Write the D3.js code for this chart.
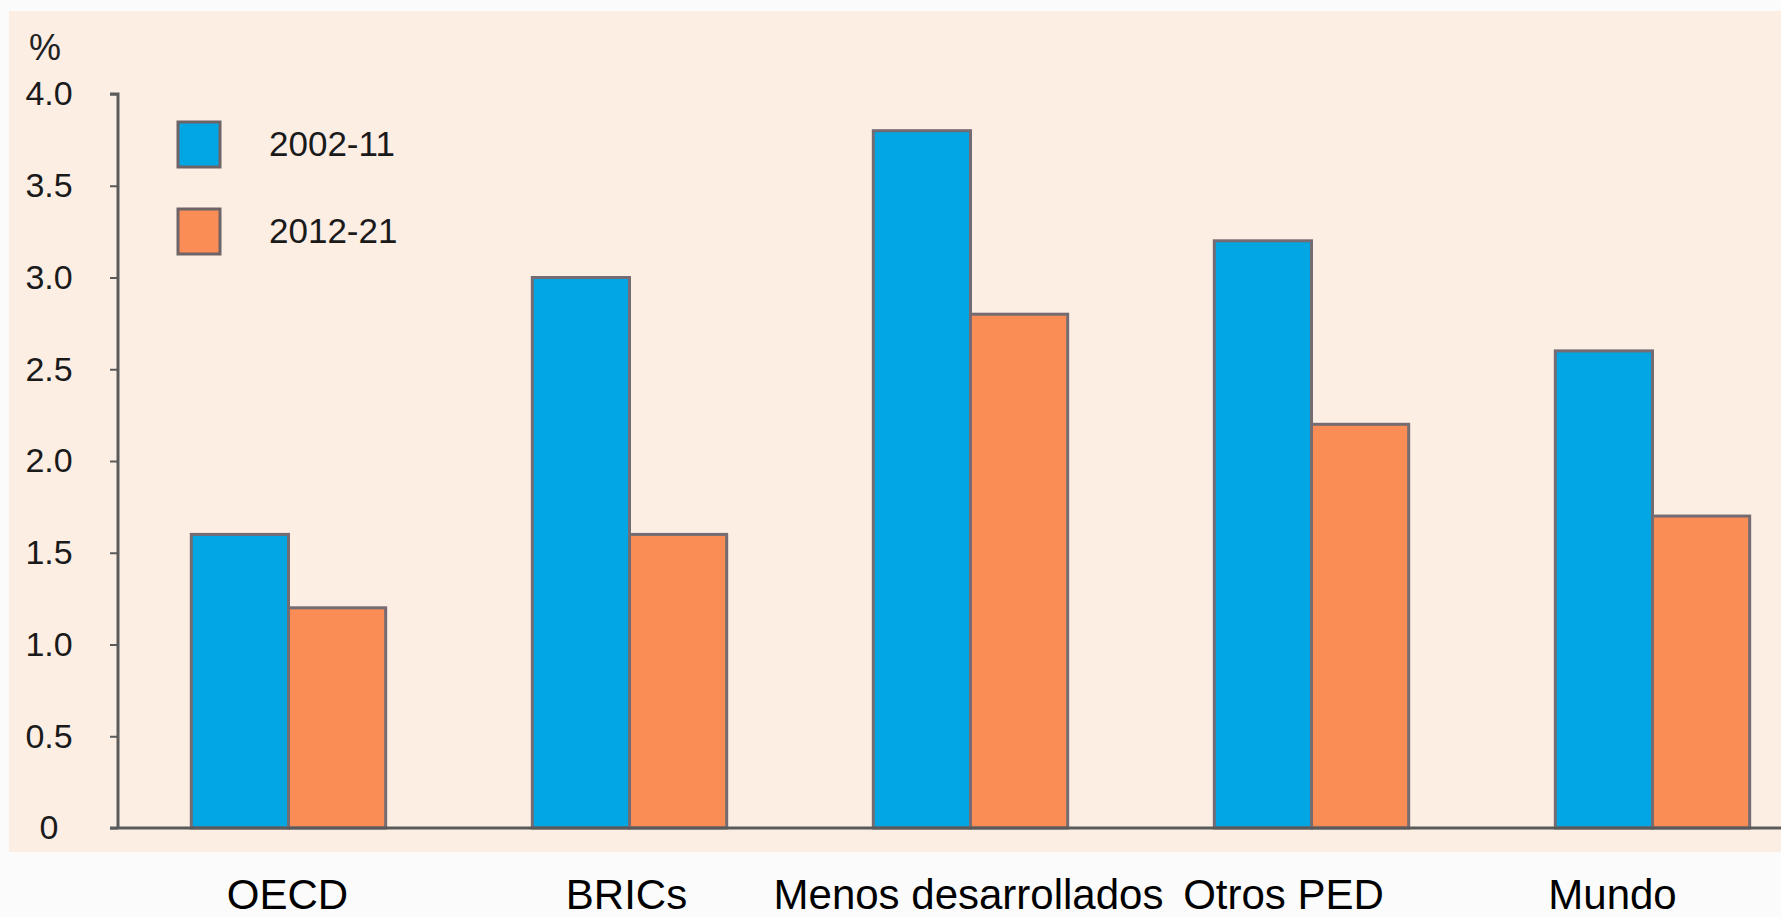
<!DOCTYPE html>
<html><head><meta charset="utf-8">
<script src="https://cdn.jsdelivr.net/npm/d3@7"></script>
<style>
html,body{margin:0;padding:0;background:#fbfbfb;}
svg{display:block;font-family:"Liberation Sans",Arial,sans-serif;}
</style></head>
<body><svg id="chart" width="1781" height="917"></svg>
<script>
const categories = ["OECD", "BRICs", "Menos desarrollados", "Otros PED", "Mundo"];
const seriesNames = ["2002-11", "2012-21"];
const values2002_11 = [1.6, 3.0, 3.8, 3.2, 2.6];
const values2012_21 = [1.2, 1.6, 2.8, 2.2, 1.7];
const yTicks = [0, 0.5, 1.0, 1.5, 2.0, 2.5, 3.0, 3.5, 4.0];
const yTickLabels = ["0", "0.5", "1.0", "1.5", "2.0", "2.5", "3.0", "3.5", "4.0"];

const colors = ["#02a6e2", "#fa8c55"];
const labelNudge = [-1, -3, -2, -28, -40];

const svg = d3.select("#chart");
const W = 1781, H = 917;

// panel background
svg.append("rect").attr("x", 9).attr("y", 11).attr("width", W - 9).attr("height", 841)
  .attr("fill", "#fdeee4");

const y = d3.scaleLinear().domain([0, 4]).range([828, 94]);
const x0 = d3.scaleBand().domain(categories).range([118, 1823]).paddingInner(0.43).paddingOuter(0.215);
const x1 = d3.scaleBand().domain(seriesNames).range([0, x0.bandwidth()]);

const series = [values2002_11, values2012_21];

// bars
categories.forEach((c, i) => {
  series.forEach((vals, s) => {
    svg.append("rect")
      .attr("x", x0(c) + x1(seriesNames[s]))
      .attr("y", y(vals[i]))
      .attr("width", x1.bandwidth())
      .attr("height", y(0) - y(vals[i]))
      .attr("fill", colors[s])
      .attr("stroke", "#746c72")
      .attr("stroke-width", 3);
  });
});

// y axis
const yAxis = d3.axisLeft(y).tickValues(yTicks).tickFormat((d, i) => yTickLabels[i]).tickSize(8).tickPadding(34);
const gy = svg.append("g").attr("transform", "translate(118,0)").call(yAxis);
gy.select(".domain").attr("stroke", "#5a5a5a").attr("stroke-width", 3).attr("d", `M-8,${y(4)}H0V${y(0)}`);
gy.selectAll(".tick line").attr("stroke", "#5a5a5a").attr("stroke-width", 2);
gy.selectAll(".tick text").attr("font-size", 34).attr("fill", "#1a1a1a")
  .attr("text-anchor", "middle").attr("x", -69);

// baseline
svg.append("line").attr("x1", 110).attr("x2", W).attr("y1", y(0)).attr("y2", y(0))
  .attr("stroke", "#5a5a5a").attr("stroke-width", 3);

// % label
svg.append("text").attr("x", 45).attr("y", 60).attr("text-anchor", "middle")
  .attr("font-size", 36).attr("fill", "#222").text("%");

// legend
seriesNames.forEach((n, s) => {
  const ly = 122 + s * 87;
  svg.append("rect").attr("x", 178).attr("y", ly).attr("width", 42).attr("height", 45)
    .attr("fill", colors[s]).attr("stroke", "#6e6468").attr("stroke-width", 3);
  svg.append("text").attr("x", 269).attr("y", ly + 34).attr("font-size", 35)
    .attr("fill", "#1a1a1a").text(n);
});

// category labels
categories.forEach((c, i) => {
  svg.append("text").attr("x", x0(c) + x0.bandwidth() / 2 + labelNudge[i]).attr("y", 909)
    .attr("text-anchor", "middle").attr("font-size", 42).attr("fill", "#000").text(c);
});
</script></body></html>
